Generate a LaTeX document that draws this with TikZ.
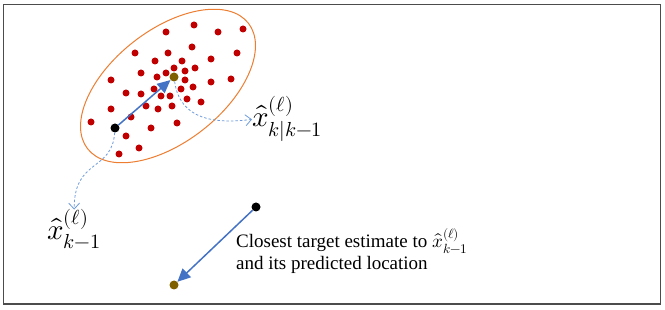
\documentclass[tikz,border=0pt]{standalone}
\usepackage{amsmath}
\usepackage{fontspec}
\usepackage{unicode-math}
\setmainfont{Liberation Serif}
\setmathfont{Latin Modern Math}
\usetikzlibrary{arrows.meta,positioning}

\definecolor{dotred}{HTML}{C00000}
\definecolor{dotbrown}{HTML}{7F6000}
\definecolor{arrowblue}{HTML}{4472C4}
\definecolor{dashblue}{HTML}{6E9BDB}
\definecolor{ellorange}{HTML}{ED7D31}

\begin{document}
\begin{tikzpicture}[x=1pt, y=-1pt,
  reddot/.style={circle, fill=dotred, inner sep=0pt, minimum size=7pt},
  blackdot/.style={circle, fill=black, inner sep=0pt, minimum size=9pt},
  browndot/.style={circle, fill=dotbrown, inner sep=0pt, minimum size=9pt},
  bluearrow/.style={-{Triangle[length=13pt,width=12pt]}, arrowblue, line width=1.5pt},
  dasharrow/.style={-{Straight Barb[length=6pt,width=11pt]}, dashblue, line width=0.8pt, dash pattern=on 2.5pt off 2pt},
  mathlabel/.style={inner sep=0pt, font=\fontsize{29}{33}\selectfont},
  textlabel/.style={inner sep=0pt, align=left, font=\fontsize{19}{22}\selectfont}
]
\useasboundingbox (0,0) rectangle (665,310);
\draw[gray!60!black, line width=1.5pt] (3.5,4.5) rectangle (660.5,304);

% cloud of particles
\draw[ellorange, line width=1pt, rotate around={38:(168,86)}] (168,86) ellipse [x radius=102, y radius=56];
\foreach \px/\py [count=\i] in {166/32,194/25,218/32,243/29,135/53,168/53,192/47,237/53,
  211/59,155/61,182/61,141/73,166/73,174/68,185/71,195/68,157/77,111/80,185/80,211/82,
  231/79,126/93,141/94,154/89,161/96,170/96,181/89,193/87,187/99,201/102,111/109,146/106,
  158/109,172/106,131/117,91/122,151/128,177/123,126/136,139/148,119/154}
  \node[reddot] (r\i) at (\px,\py) {};

\node[blackdot] (prev) at (115,128) {};
\node[browndot] (pred) at (174,77) {};
\node[blackdot] (near) at (256,207) {};
\node[browndot] (nearpred) at (174,285) {};

\node[mathlabel, anchor=base west] (labpred) at (252,127) {$\hat{x}^{(\ell)}_{k|k-1}$};
\node[mathlabel, anchor=base west] (labprev) at (47,240) {$\hat{x}^{(\ell)}_{k-1}$};
\node[textlabel, anchor=north west] (labnear) at (236,228)
  {Closest target estimate to $\hat{x}^{(\ell)}_{k-1}$\\and its predicted location};

\draw[bluearrow] (prev) -- (pred);
\draw[bluearrow] (near) -- (nearpred);
\draw[dasharrow] (pred) .. controls (180,120) and (215,124) .. (labpred.west);
\draw[dasharrow] (prev) .. controls (112,172) and (74,158) .. (labprev.north);
\end{tikzpicture}
\end{document}
